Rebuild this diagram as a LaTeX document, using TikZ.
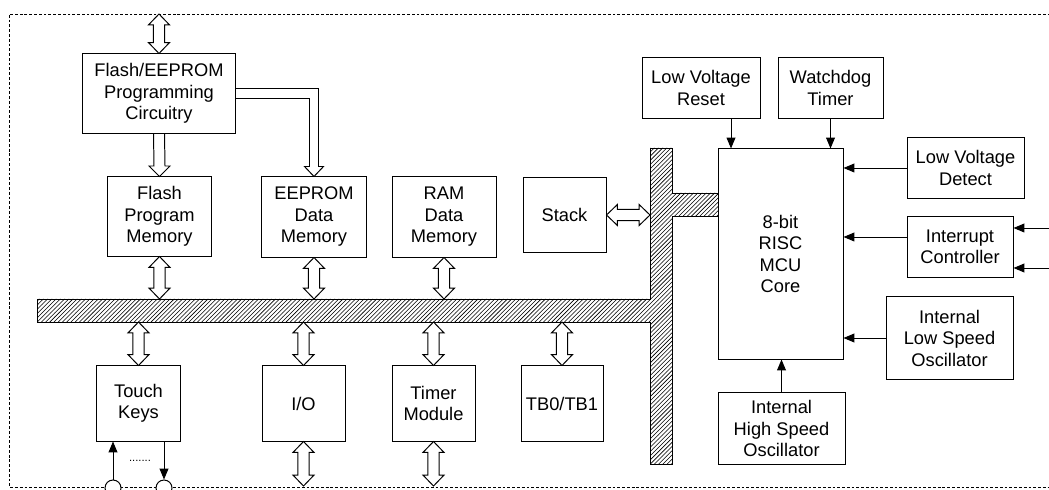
\documentclass[tikz,border=0pt]{standalone}
\usepackage{fontspec}
\setmainfont{Liberation Sans}
\usetikzlibrary{arrows.meta,calc,patterns,positioning}

\begin{document}
\begin{tikzpicture}[
    x=0.025cm, y=-0.025cm,
    box/.style={draw, line width=0.7pt, align=center, inner sep=0pt, font=\fontsize{13}{15.3}\selectfont},
    arrow/.style={-{Triangle[length=0.27cm, width=0.22cm]}, line width=0.7pt},
    bus/.style={draw, line width=0.7pt, pattern=north east lines},
    pin/.style={circle, draw, fill=white, line width=0.7pt, minimum size=0.4cm, inner sep=0pt},
    border/.style={line width=0.6pt, dash pattern=on 2pt off 1.4pt},
    dbl/.style={line width=0.7pt, to path={
        -- ($(\tikztostart)!0.27cm!(\tikztotarget)!0.26cm!90:(\tikztotarget)$)
        -- ($(\tikztostart)!0.27cm!(\tikztotarget)!0.14cm!90:(\tikztotarget)$)
        -- ($(\tikztotarget)!0.27cm!(\tikztostart)!0.14cm!270:(\tikztostart)$)
        -- ($(\tikztotarget)!0.27cm!(\tikztostart)!0.26cm!270:(\tikztostart)$)
        -- (\tikztotarget)
        -- ($(\tikztotarget)!0.27cm!(\tikztostart)!0.26cm!90:(\tikztostart)$)
        -- ($(\tikztotarget)!0.27cm!(\tikztostart)!0.14cm!90:(\tikztostart)$)
        -- ($(\tikztostart)!0.27cm!(\tikztotarget)!0.14cm!270:(\tikztotarget)$)
        -- ($(\tikztostart)!0.27cm!(\tikztotarget)!0.26cm!270:(\tikztotarget)$)
        -- cycle}}
]
\useasboundingbox (0,0) rectangle (1049,490);
\clip (0,0) rectangle (1049,490);

% ========== CHIP BORDER ==========
\draw[border] (1060,14) -- (9,14) -- (9,487) -- (1060,487);

% ========== INTERNAL BUS ==========
\draw[bus] (37,299) -- (650,299) -- (650,148) -- (672,148) -- (672,193) -- (718,193)
    -- (718,216) -- (672,216) -- (672,464) -- (650,464) -- (650,322) -- (37,322) -- cycle;
\coordinate (busT) at (0,299);
\coordinate (busB) at (0,322);
\coordinate (vbusL) at (650,0);

% ========== MEMORIES ==========
\node[box, minimum width=3.8cm, minimum height=1.975cm] (prog) at (159,93.5) {Flash/EEPROM\\Programming\\Circuitry};
\node[box, minimum width=2.575cm, minimum height=1.975cm] (flash) at (159.5,216.5) {Flash\\Program\\Memory};
\node[box, minimum width=2.6cm, minimum height=2cm] (eeprom) at (314,217) {EEPROM\\Data\\Memory};
\node[box, minimum width=2.6cm, minimum height=2cm] (ram) at (444,217) {RAM\\Data\\Memory};
\node[box, minimum width=2.075cm, minimum height=1.85cm] (stack) at (564.5,215) {Stack};

% ========== CORE AND SUPPORT ==========
\node[box, minimum width=3.125cm, minimum height=5.25cm] (core) at (780.5,254) {8-bit\\RISC\\MCU\\Core};
\node[box, minimum width=2.95cm, minimum height=1.5cm] (lvr) at (701,88) {Low Voltage\\Reset};
\node[box, minimum width=2.625cm, minimum height=1.5cm] (wdt) at (830.5,88) {Watchdog\\Timer};
\node[box, minimum width=2.925cm, minimum height=1.5cm] (lvd) at (965.5,168) {Low Voltage\\Detect};
\node[box, minimum width=2.65cm, minimum height=1.5cm] (intc) at (960,247) {Interrupt\\Controller};
\node[box, minimum width=3.175cm, minimum height=2.05cm] (lso) at (949.5,338) {Internal\\Low Speed\\Oscillator};
\node[box, minimum width=3.175cm, minimum height=1.775cm] (hso) at (781.5,428.5) {Internal\\High Speed\\Oscillator};

% ========== PERIPHERALS ==========
\node[box, minimum width=2.075cm, minimum height=1.875cm] (touch) at (138.5,403.5) {Touch\\Keys};
\node[box, minimum width=2.075cm, minimum height=1.875cm] (io) at (303.5,403.5) {I/O};
\node[box, minimum width=2.075cm, minimum height=1.875cm] (timer) at (433.5,403.5) {Timer\\Module};
\node[box, minimum width=2.05cm, minimum height=1.875cm] (tb) at (562,403.5) {TB0/TB1};

% ========== HOLLOW BUS ARROWS ==========
\coordinate (progext) at (159,14);
\draw[dbl] (progext) to (prog.north);
\draw[line width=0.7pt] ($(prog.south)+(-5.5,0)$) -- ($(flash.north)+(-5.5,-10.5)$) -- ++(-5,0)
    -- (flash.north) -- ++(10.5,-10.5) -- ++(-5,0) -- ($(prog.south)+(5.5,0)$);
\draw[line width=0.7pt] ($(prog.east)+(0,-5)$) -| ($(eeprom.north)+(4.5,-10)$) -- ++(5,0)
    -- (eeprom.north) -- ++(-9.5,-10) -- ++(5,0) |- ($(prog.east)+(0,5)$);
\foreach \n in {flash,eeprom,ram}
    \draw[dbl] (\n.south) to (\n.south |- busT);
\foreach \n in {touch,io,timer,tb}
    \draw[dbl] (\n.north |- busB) to (\n.north);
\coordinate (ioext) at (303.5,486);
\coordinate (timerext) at (433.5,486);
\draw[dbl] (io.south) to (ioext);
\draw[dbl] (timer.south) to (timerext);
\draw[dbl] (stack.east) to (stack.east -| vbusL);

% ========== CONTROL ARROWS ==========
\coordinate (lvrout) at ($(lvr.south)+(30,0)$);
\draw[arrow] (lvrout) -- (lvrout |- core.north);
\draw[arrow] (wdt.south) -- (wdt.south |- core.north);
\draw[arrow] (lvd.west) -- (lvd.west -| core.east);
\coordinate (intcout) at ($(intc.west)+(0,-10)$);
\draw[arrow] (intcout) -- (intcout -| core.east);
\draw[arrow] (lso.west) -- (lso.west -| core.east);
\draw[arrow] (hso.north) -- (hso.north |- core.south);
\coordinate (irqA) at (1060,228);
\coordinate (irqB) at (1060,268);
\draw[arrow] (irqA) -- (irqA -| intc.east);
\draw[arrow] (irqB) -- (irqB -| intc.east);

% ========== TOUCH KEY PINS ==========
\node[pin] (pinA) at (113,488) {};
\node[pin] (pinB) at (164,488) {};
\draw[arrow] (pinA) -- (pinA |- touch.south);
\draw[arrow] (pinB |- touch.south) -- (pinB);
\node[font=\fontsize{8}{8}\selectfont] (dots) at (140,461) {.......};

\end{tikzpicture}
\end{document}
